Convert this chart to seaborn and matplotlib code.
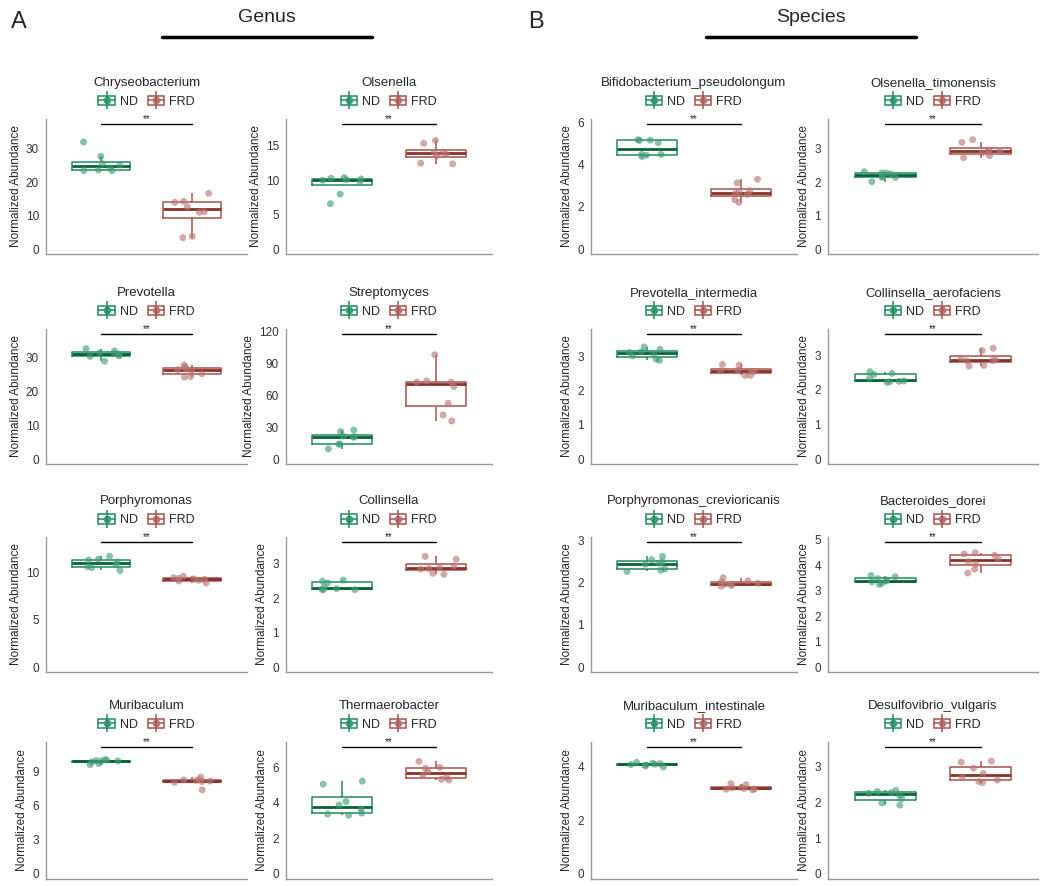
import numpy as np
import pandas as pd
import matplotlib
matplotlib.use("Agg")
import matplotlib.pyplot as plt
import seaborn as sns
from matplotlib.patches import Patch
from matplotlib.lines import Line2D
from matplotlib.legend_handler import HandlerTuple

groups = ["ND", "FRD"]

# Genus level (8 samples per group)
chryseobacterium_nd = [23.5, 23.5, 23.7, 24.3, 25.2, 25.6, 27.8, 32.1]
chryseobacterium_frd = [3.4, 3.8, 11.0, 11.2, 12.7, 14.0, 14.3, 16.7]
olsenella_nd = [6.6, 8.0, 9.8, 10.0, 10.1, 10.2, 10.3, 10.4]
olsenella_frd = [12.4, 12.5, 13.6, 13.8, 14.1, 14.1, 15.4, 15.8]
prevotella_nd = [28.8, 30.2, 30.4, 30.6, 31.0, 31.3, 31.8, 32.5]
prevotella_frd = [24.1, 24.3, 25.1, 26.0, 26.3, 26.5, 27.2, 27.6]
streptomyces_nd = [9.5, 13.9, 14.2, 20.5, 21.1, 21.8, 25.9, 27.4]
streptomyces_frd = [36.0, 41.6, 52.7, 68.5, 72.6, 72.6, 73.8, 98.4]
porphyromonas_nd = [10.2, 10.5, 10.6, 10.8, 11.1, 11.3, 11.4, 11.7]
porphyromonas_frd = [8.87, 9.08, 9.15, 9.26, 9.3, 9.37, 9.44, 9.58]
collinsella_nd = [2.25, 2.25, 2.26, 2.28, 2.33, 2.45, 2.50, 2.53]
collinsella_frd = [2.70, 2.73, 2.85, 2.87, 2.90, 2.94, 3.14, 3.22]
muribaculum_nd = [9.65, 9.75, 9.9, 9.95, 9.98, 10.0, 10.05, 10.1]
muribaculum_frd = [7.42, 8.08, 8.15, 8.2, 8.25, 8.3, 8.32, 8.55]
thermaerobacter_nd = [3.31, 3.37, 3.43, 3.66, 3.89, 4.08, 5.06, 5.23]
thermaerobacter_frd = [5.29, 5.33, 5.44, 5.57, 5.77, 5.96, 6.0, 6.34]

# Species level
bifido_nd = [4.4, 4.46, 4.5, 4.5, 5.06, 5.17, 5.18, 5.2]
bifido_frd = [2.22, 2.35, 2.6, 2.65, 2.72, 2.78, 3.15, 3.32]
olsenella_t_nd = [2.02, 2.15, 2.15, 2.18, 2.25, 2.28, 2.28, 2.32]
olsenella_t_frd = [2.74, 2.8, 2.88, 2.94, 2.95, 2.97, 3.2, 3.28]
prevotella_i_nd = [2.89, 2.92, 3.02, 3.09, 3.12, 3.14, 3.21, 3.28]
prevotella_i_frd = [2.45, 2.45, 2.55, 2.57, 2.58, 2.6, 2.75, 2.77]
collinsella_a_nd = [2.22, 2.24, 2.25, 2.26, 2.34, 2.45, 2.48, 2.53]
collinsella_a_frd = [2.69, 2.71, 2.84, 2.85, 2.87, 2.92, 3.14, 3.21]
porphyromonas_c_nd = [2.27, 2.3, 2.33, 2.44, 2.47, 2.5, 2.55, 2.63]
porphyromonas_c_frd = [1.92, 1.94, 1.96, 1.97, 1.99, 2.02, 2.05, 2.12]
bacteroides_d_nd = [3.25, 3.3, 3.35, 3.38, 3.42, 3.48, 3.55, 3.6]
bacteroides_d_frd = [3.7, 3.85, 4.05, 4.15, 4.25, 4.4, 4.45, 4.5]
muribaculum_i_nd = [3.98, 4.02, 4.05, 4.07, 4.08, 4.1, 4.12, 4.15]
muribaculum_i_frd = [3.13, 3.15, 3.16, 3.18, 3.2, 3.22, 3.32, 3.36]
desulfovibrio_nd = [1.92, 1.98, 2.1, 2.2, 2.25, 2.27, 2.3, 2.33]
desulfovibrio_frd = [2.55, 2.58, 2.62, 2.7, 2.8, 2.95, 3.12, 3.15]

titles = ["Chryseobacterium", "Olsenella", "Bifidobacterium_pseudolongum", "Olsenella_timonensis",
          "Prevotella", "Streptomyces", "Prevotella_intermedia", "Collinsella_aerofaciens",
          "Porphyromonas", "Collinsella", "Porphyromonas_crevioricanis", "Bacteroides_dorei",
          "Muribaculum", "Thermaerobacter", "Muribaculum_intestinale", "Desulfovibrio_vulgaris"]
nd_values = [chryseobacterium_nd, olsenella_nd, bifido_nd, olsenella_t_nd,
             prevotella_nd, streptomyces_nd, prevotella_i_nd, collinsella_a_nd,
             porphyromonas_nd, collinsella_nd, porphyromonas_c_nd, bacteroides_d_nd,
             muribaculum_nd, thermaerobacter_nd, muribaculum_i_nd, desulfovibrio_nd]
frd_values = [chryseobacterium_frd, olsenella_frd, bifido_frd, olsenella_t_frd,
              prevotella_frd, streptomyces_frd, prevotella_i_frd, collinsella_a_frd,
              porphyromonas_frd, collinsella_frd, porphyromonas_c_frd, bacteroides_d_frd,
              muribaculum_frd, thermaerobacter_frd, muribaculum_i_frd, desulfovibrio_frd]
# height of the significance bar in each panel
sig_heights = [37.5, 18.2, 5.95, 3.75,
               36.8, 118, 3.66, 3.62,
               13.2, 3.64, 2.97, 4.92,
               11.2, 7.15, 4.72, 3.54]
yticks = [[0, 10, 20, 30], [0, 5, 10, 15], [0, 2, 4, 6], [0, 1, 2, 3],
          [0, 10, 20, 30], [0, 30, 60, 90, 120], [0, 1, 2, 3], [0, 1, 2, 3],
          [0, 5, 10], [0, 1, 2, 3], [0, 1, 2, 3], [0, 1, 2, 3, 4, 5],
          [0, 3, 6, 9], [0, 2, 4, 6], [0, 2, 4], [0, 1, 2, 3]]

nd_color, nd_dark, nd_point = "#1f8a5e", "#0b6238", "#3e9d74"
frd_color, frd_dark, frd_point = "#a6544e", "#87322c", "#b87571"

sns.set_style("white")
plt.rcParams["font.family"] = ["Liberation Sans", "DejaVu Sans"]
np.random.seed(7)

W, H = 1050, 886
fig = plt.figure(figsize=(W / 100, H / 100), dpi=100)

col_left = [46, 286, 591, 828]
col_width = [201, 206, 206, 210]
row_top = [119, 329, 537, 742]
row_height = [135, 135, 135, 137]

legend_handles = [
    (Patch(facecolor="white", edgecolor=c, lw=1.1),
     Line2D([], [], color=c, lw=1.1, marker="o", markersize=4.5, markerfacecolor=p, markeredgecolor=p),
     Line2D([], [], color=c, marker="|", markersize=13, linestyle="None", markeredgewidth=1.1))
    for c, p in [(nd_color, nd_point), (frd_color, frd_point)]
]


def draw_panel(ax, title, nd_vals, frd_vals, sig_y, ticks):
    df = pd.DataFrame({"group": ["ND"] * len(nd_vals) + ["FRD"] * len(frd_vals),
                       "value": nd_vals + frd_vals})
    for g, c, dark in [("ND", nd_color, nd_dark), ("FRD", frd_color, frd_dark)]:
        sns.boxplot(data=df[df["group"] == g], x="group", y="value", order=groups,
                    color=c, fill=False, width=0.64, linewidth=1.1,
                    showfliers=False, showcaps=False,
                    medianprops=dict(color=dark, linewidth=2.0), ax=ax)
    sns.stripplot(data=df, x="group", y="value", hue="group", order=groups,
                  hue_order=groups, palette=[nd_point, frd_point], jitter=0.22,
                  size=5, alpha=0.62, linewidth=0, legend=False, ax=ax)
    ax.plot([0, 1], [sig_y, sig_y], color="black", lw=1)
    ax.text(0.5, sig_y, "**", ha="center", va="bottom", fontsize=7)
    ax.set_xlim(-0.6, 1.6)
    ax.set_ylim(-0.04 * sig_y, 1.04 * sig_y)
    ax.set_yticks(ticks)
    ax.set_xticks([])
    ax.set_xlabel("")
    ax.set_ylabel("Normalized Abundance", fontsize=8.5, labelpad=3)
    sns.despine(ax=ax)
    for s in ["left", "bottom"]:
        ax.spines[s].set_color("#999999")
        ax.spines[s].set_linewidth(1.0)
    ax.tick_params(axis="y", length=3, color="#999999", labelsize=8.5, pad=2, labelcolor="#333333")
    ax.set_title(title, fontsize=9.5, pad=24)
    ax.legend(legend_handles, groups, loc="center", bbox_to_anchor=(0.5, 1 + 17 / 135),
              ncol=2, frameon=False, fontsize=9, handlelength=1.3, handleheight=0.8,
              columnspacing=0.8, handletextpad=0.4, borderaxespad=0,
              handler_map={tuple: HandlerTuple(ndivide=1)})


for i, title in enumerate(titles):
    r, c = divmod(i, 4)
    rect = [col_left[c] / W, 1 - (row_top[r] + row_height[r]) / H,
            col_width[c] / W, row_height[r] / H]
    ax = fig.add_axes(rect)
    draw_panel(ax, title, nd_values[i], frd_values[i], sig_heights[i], yticks[i])

# section headers
fig.text(19 / W, 1 - 22 / H, "A", fontsize=17, ha="center", va="center")
fig.text(536 / W, 1 - 22 / H, "B", fontsize=17, ha="center", va="center")
fig.text(267 / W, 1 - 18 / H, "Genus", fontsize=14, ha="center", va="center")
fig.text(811 / W, 1 - 18 / H, "Species", fontsize=14, ha="center", va="center")
fig.add_artist(Line2D([162 / W, 372 / W], [1 - 37 / H] * 2, color="black", lw=2.5,
                      transform=fig.transFigure))
fig.add_artist(Line2D([706 / W, 916 / W], [1 - 37 / H] * 2, color="black", lw=2.5,
                      transform=fig.transFigure))

fig.savefig("out.png", dpi=100, facecolor="white")
